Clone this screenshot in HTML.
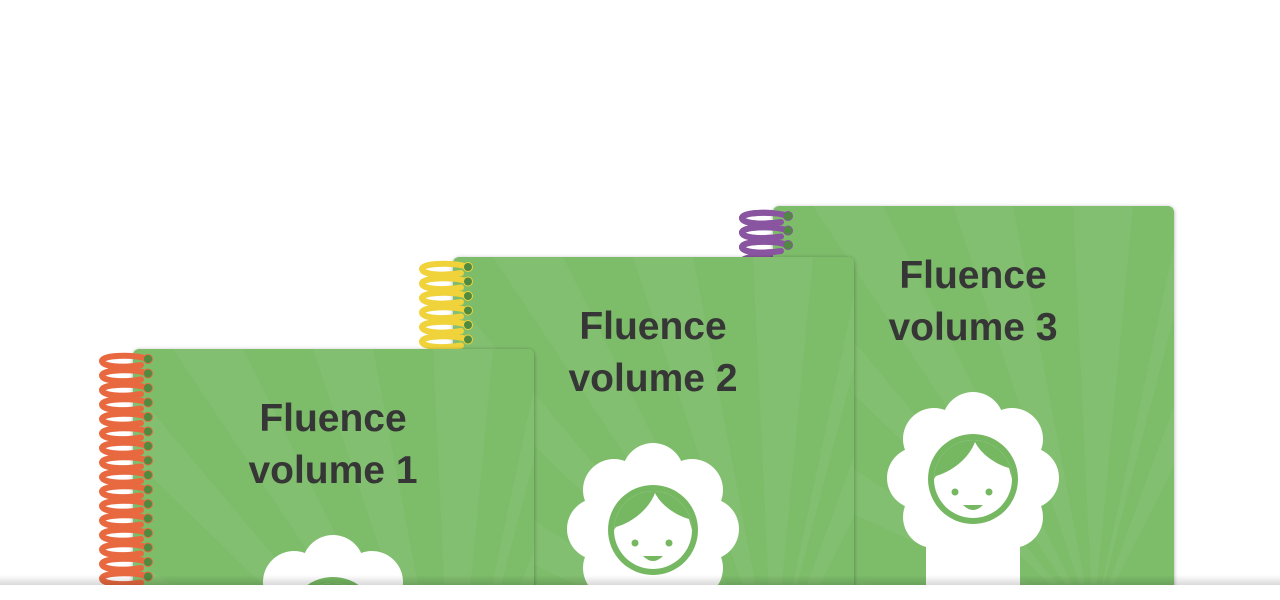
<!DOCTYPE html>
<html><head><meta charset="utf-8"><style>
html,body{margin:0;padding:0;background:#fff;width:1280px;height:600px;overflow:hidden}
svg{display:block;overflow:hidden}
.t{font-family:"Liberation Sans",sans-serif;font-weight:bold;font-size:39px;fill:#363636;text-anchor:middle}
</style></head><body>
<svg width="1280" height="600" viewBox="0 0 1280 600" xmlns="http://www.w3.org/2000/svg">
<defs>
<clipPath id="page"><rect x="0" y="0" width="1280" height="585"/></clipPath>
<filter id="sh" x="-10%" y="-10%" width="120%" height="120%"><feDropShadow dx="0" dy="1" stdDeviation="2" flood-opacity="0.35"/></filter>
<clipPath id="bc"><rect x="0" y="0" width="401" height="420" rx="6"/></clipPath>
<g id="book">
<rect x="0" y="0" width="401" height="420" rx="6" fill="#7dbd6a" filter="url(#sh)"/>
<g clip-path="url(#bc)" fill="#ffffff" fill-opacity="0.045">
<polygon points="320,420 40,0 110,0"/>
<polygon points="320,420 180,0 240,0"/>
<polygon points="320,420 300,0 360,0"/>
<polygon points="320,420 401,40 401,110"/>
<polygon points="320,420 401,200 401,260"/>
<polygon points="320,420 0,40 0,110"/>
<polygon points="320,420 0,210 0,270"/>
<polygon points="320,420 0,360 0,410"/>
</g>
<g fill="#fff">
<rect x="153" y="300" width="94" height="120"/>
<circle cx="200" cy="217" r="31"/><circle cx="239" cy="233" r="31"/><circle cx="255" cy="272" r="31"/><circle cx="239" cy="311" r="31"/>
<circle cx="200" cy="327" r="31"/><circle cx="161" cy="311" r="31"/><circle cx="145" cy="272" r="31"/><circle cx="161" cy="233" r="31"/>
<circle cx="200" cy="272" r="55"/>
</g>
<circle cx="200" cy="273" r="45" fill="#76b762"/>
<circle cx="200" cy="273" r="39" fill="#fff"/>
<path d="M161,273 A39,39 0 0 1 239,273 L236,262 C222,258 208,248 202,236 C196,252 180,265 163,270 Z" fill="#76b762"/>
<circle cx="182" cy="286" r="3.5" fill="#76b762"/><circle cx="216" cy="286" r="3.5" fill="#76b762"/>
<path d="M190,299 Q200,309 210,299 Z" fill="#76b762"/>
</g>
<g id="coil"><path d="M15,0 C0,-5 -31,-4 -31,2 C-31,8 -8,9 8,6" fill="none" stroke-width="6" stroke-linecap="round"/><circle cx="15" cy="0" r="4.5" fill="#4e8a40"/></g>
</defs>
<g clip-path="url(#page)">
<!-- book 3 -->
<g transform="translate(773,206)">
<g stroke="#8a55a0">
<use href="#coil" y="10"/><use href="#coil" y="24.5"/><use href="#coil" y="39"/><use href="#coil" y="53.5"/>
</g>
<use href="#book"/>
<g stroke="#8a55a0"><use href="#coil" y="10"/><use href="#coil" y="24.5"/><use href="#coil" y="39"/></g>
<text class="t" x="200" y="82">Fluence</text>
<text class="t" x="200" y="134">volume 3</text>
</g>
<!-- book 2 -->
<g transform="translate(453,257)">
<use href="#book"/>
<g stroke="#f0d23a">
<use href="#coil" y="10"/><use href="#coil" y="24.5"/><use href="#coil" y="39"/><use href="#coil" y="53.5"/><use href="#coil" y="68"/><use href="#coil" y="82.5"/>
</g>
<text class="t" x="200" y="82">Fluence</text>
<text class="t" x="200" y="134">volume 2</text>
</g>
<!-- book 1 -->
<g transform="translate(133,349)">
<use href="#book"/>
<g stroke="#e8693f">
<use href="#coil" y="10"/><use href="#coil" y="24.5"/><use href="#coil" y="39"/><use href="#coil" y="53.5"/><use href="#coil" y="68"/><use href="#coil" y="82.5"/>
<use href="#coil" y="97"/><use href="#coil" y="111.5"/><use href="#coil" y="126"/><use href="#coil" y="140.5"/><use href="#coil" y="155"/><use href="#coil" y="169.5"/>
<use href="#coil" y="184"/><use href="#coil" y="198.5"/><use href="#coil" y="213"/><use href="#coil" y="227.5"/>
</g>
<text class="t" x="200" y="82">Fluence</text>
<text class="t" x="200" y="134">volume 1</text>
</g>
</g>
<defs><linearGradient id="bg" x1="0" y1="0" x2="0" y2="1"><stop offset="0" stop-color="#000" stop-opacity="0"/><stop offset="1" stop-color="#000" stop-opacity="0.15"/></linearGradient></defs>
<rect x="0" y="575" width="1280" height="10" fill="url(#bg)"/>
<rect x="0" y="585" width="1280" height="15" fill="#fff"/>
</svg>
</body></html>
